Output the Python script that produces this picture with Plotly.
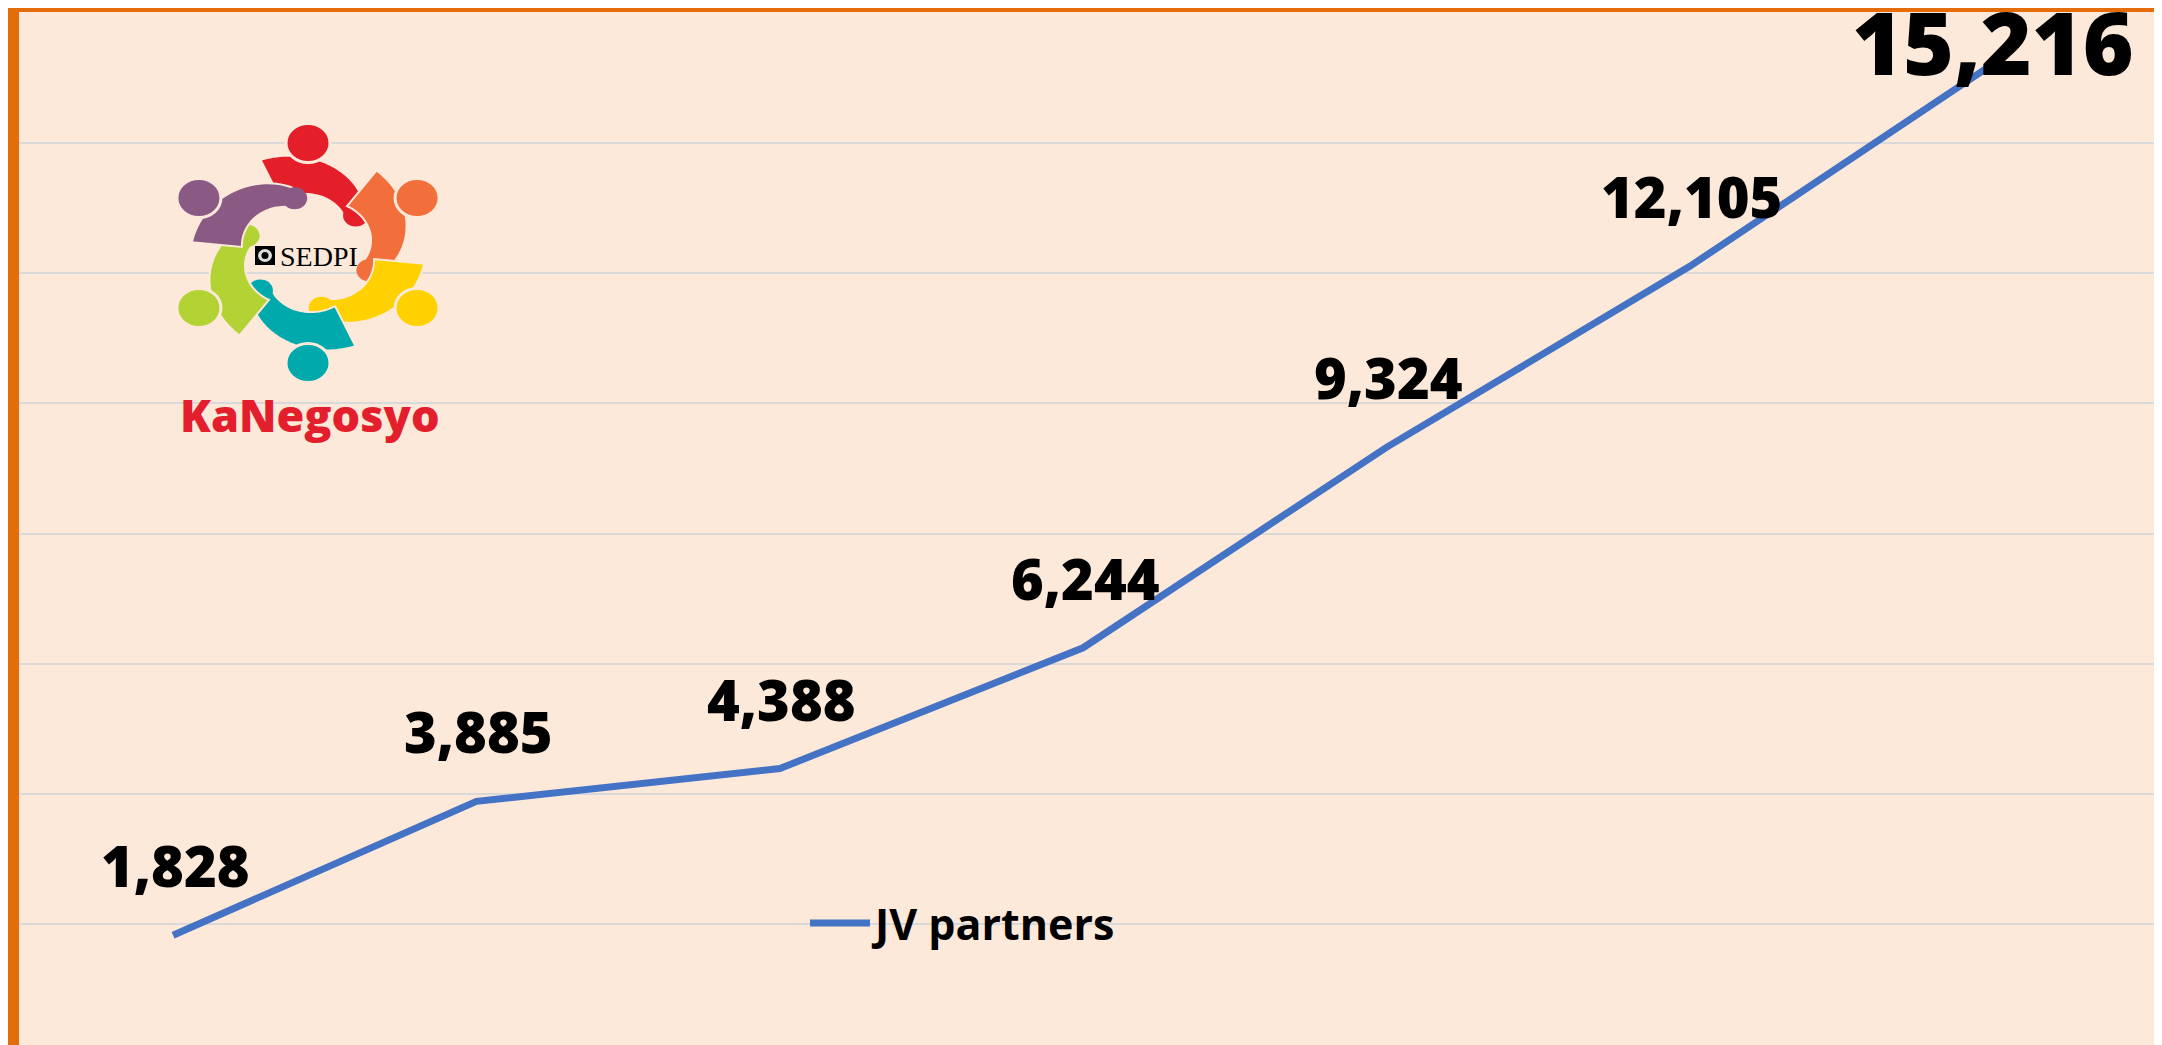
import math
import plotly.graph_objects as go

# ---- data ----
categories = ["P1", "P2", "P3", "P4", "P5", "P6", "P7"]
jv_partners = [1828, 3885, 4388, 6244, 9324, 12105, 15216]
label_texts = ["1,828", "3,885", "4,388", "6,244", "9,324", "12,105", "15,216"]
series_name = "JV partners"

W, H = 2162, 1045
ML, MR, MT, MB = 11, 14, 4, 0
PW, PH = W - ML - MR, H - MT - MB

ORANGE = "#E46C0A"
PEACH = "#FDE9DA"
BLUE = "#4472C4"
LABEL_FONT = "Open Sans"


def px(x):
    return (x - ML) / PW


def py(y):
    return (H - MB - y) / PH


fig = go.Figure()
fig.add_trace(go.Scatter(
    x=categories, y=jv_partners, mode="lines", name=series_name,
    line=dict(color=BLUE, width=7), hoverinfo="skip",
))

# data labels
annotations = []
for i, (c, v, t) in enumerate(zip(categories, jv_partners, label_texts)):
    last = i == len(categories) - 1
    annotations.append(dict(
        x=c, y=v, xref="x", yref="y", text=t, showarrow=False,
        xanchor="center", yanchor="middle",
        yshift=23 if last else 70, xshift=0 if last else 2,
        font=dict(family=LABEL_FONT, size=87 if last else 56, color="black", weight=800),
    ))

# ---- logo (decorative) ----
shapes = []
cx, cy = 300, 245
SX = 1.145  # horizontal stretch of the logo


def lp(dx, dy):
    return cx + SX * dx, cy - dy


people = [(90, "#E51F2A"), (30, "#F26E3A"), (-30, "#FFD100"),
          (-90, "#00A9AC"), (-150, "#B3D335"), (150, "#8A5A84")]
for ang0, col in people:
    outer, inner = [], []
    N = 30
    for k in range(N + 1):
        t = k / N
        a = math.radians(ang0 + 24 - 72 * t)
        r = 80 - 24 * t * t
        w = 44 - 22 * t
        outer.append(lp((r + w / 2) * math.cos(a), (r + w / 2) * math.sin(a)))
        inner.append(lp((r - w / 2) * math.cos(a), (r - w / 2) * math.sin(a)))
    pts = outer + inner[::-1]
    path = "M " + " L ".join(f"{px(x):.5f},{py(y):.5f}" for x, y in pts) + " Z"
    shapes.append(dict(type="path", path=path, xref="paper", yref="paper",
                       fillcolor=col, line=dict(color=PEACH, width=2), layer="above"))
    # round arm end
    a = math.radians(ang0 + 24 - 72)
    ex, ey = lp(56 * math.cos(a), 56 * math.sin(a))
    shapes.append(dict(type="circle", xref="paper", yref="paper",
                       x0=px(ex - 11 * SX), x1=px(ex + 11 * SX), y0=py(ey + 11), y1=py(ey - 11),
                       fillcolor=col, line=dict(width=0), layer="above"))
for ang0, col in people:
    a = math.radians(ang0)
    hx, hy = lp(110 * math.cos(a), 110 * math.sin(a))
    shapes.append(dict(type="circle", xref="paper", yref="paper",
                       x0=px(hx - 22), x1=px(hx + 22), y0=py(hy + 19.5), y1=py(hy - 19.5),
                       fillcolor=col, line=dict(color=PEACH, width=3), layer="above"))
# SEDPI icon
shapes.append(dict(type="rect", xref="paper", yref="paper",
                   x0=px(247), x1=px(267), y0=py(257), y1=py(238),
                   fillcolor="black", line=dict(width=0), layer="above"))
shapes.append(dict(type="circle", xref="paper", yref="paper",
                   x0=px(250), x1=px(264), y0=py(254), y1=py(241),
                   fillcolor="#dddddd", line=dict(width=0), layer="above"))
shapes.append(dict(type="circle", xref="paper", yref="paper",
                   x0=px(253.5), x1=px(260.5), y0=py(251), y1=py(244),
                   fillcolor="black", line=dict(width=0), layer="above"))
annotations.append(dict(x=px(311), y=py(248), xref="paper", yref="paper",
                        text="SEDPI", showarrow=False, xanchor="center", yanchor="middle",
                        font=dict(family="Liberation Serif", size=28, color="black")))
annotations.append(dict(x=px(302), y=py(406), xref="paper", yref="paper",
                        text="KaNegosyo", showarrow=False, xanchor="center", yanchor="middle",
                        font=dict(family="Open Sans", size=45, color="#E31E2D", weight=800)))

fig.update_layout(
    width=W, height=H,
    margin=dict(l=ML, r=MR, t=MT, b=MB, pad=0),
    paper_bgcolor=ORANGE, plot_bgcolor=PEACH,
    showlegend=True,
    legend=dict(x=px(797), y=py(915), xanchor="left", yanchor="middle",
                bgcolor="rgba(0,0,0,0)", borderwidth=0,
                font=dict(family=LABEL_FONT, size=43, color="black", weight=700),
                itemwidth=60),
    xaxis=dict(type="category", range=[-0.508, 6.537], showticklabels=False,
               showgrid=False, zeroline=False, showline=False, ticks=""),
    yaxis=dict(range=[18, 16013], dtick=2000, tick0=0, showticklabels=False,
               showgrid=True, gridcolor="#D9D9D9", gridwidth=2,
               zeroline=False, showline=False, ticks=""),
    shapes=shapes, annotations=annotations,
)

fig.write_html("out.html")
